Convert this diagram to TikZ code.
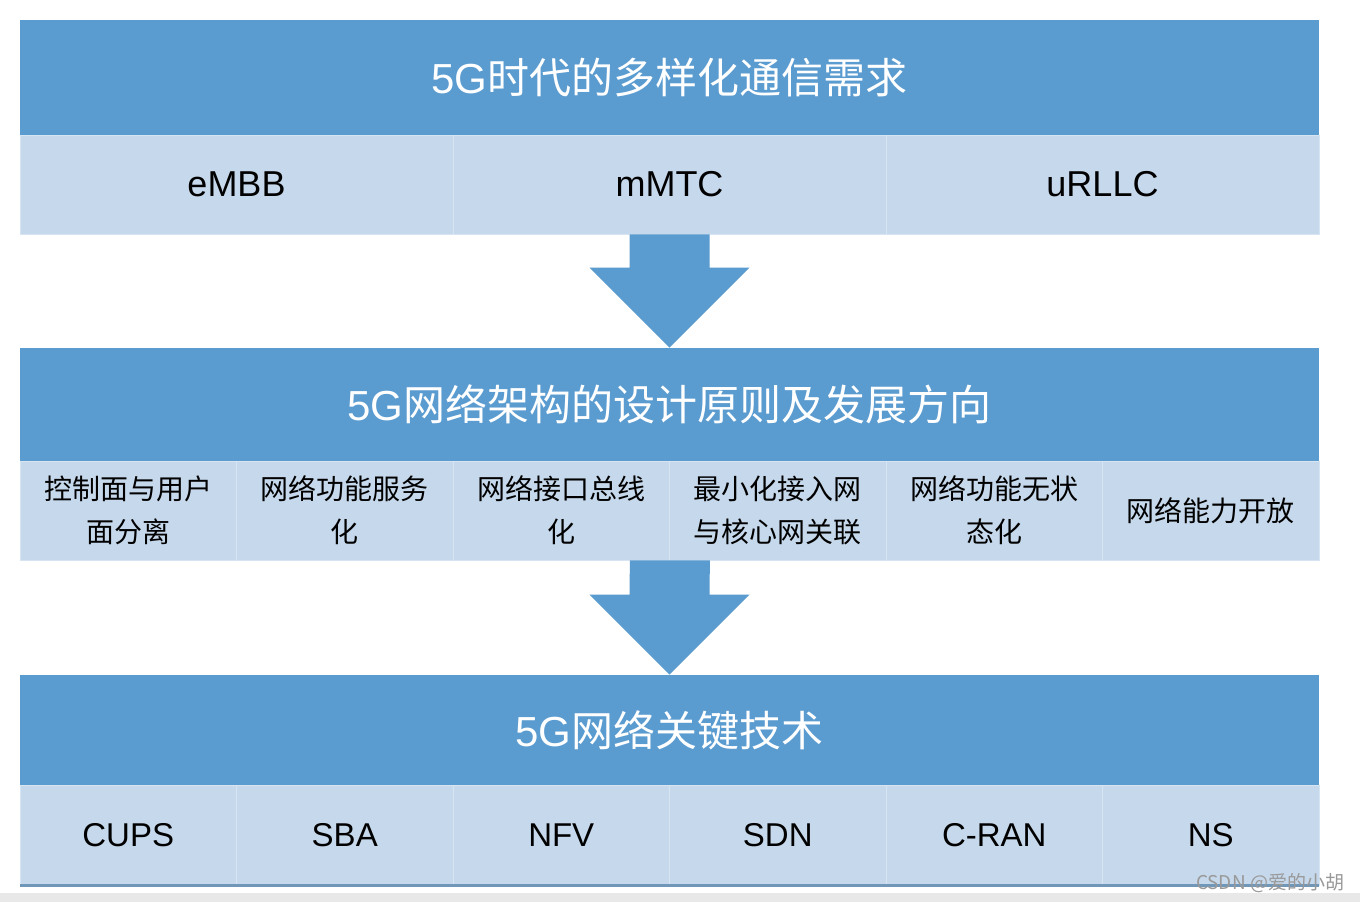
\documentclass[tikz,border=0pt]{standalone}
\usepackage{fontspec}
\setmainfont{Liberation Sans}
\newfontfamily\cjk{Noto Sans CJK SC}
\usetikzlibrary{positioning}

\definecolor{hdrblue}{HTML}{5A9BD0}
\definecolor{cellblue}{HTML}{C6D8EB}
\definecolor{edgeblue}{HTML}{7097B8}

\tikzset{
  header/.style={fill=hdrblue, text=white, minimum width=649.5pt, inner sep=0pt,
    font=\fontsize{21}{25}\selectfont},
  cell/.style={fill=cellblue, draw=white!30!cellblue, line width=0.4pt, inner sep=0pt,
    minimum height=49.5pt, align=center},
  widecell/.style={cell, minimum width=216.5pt, font=\fontsize{18}{22}\selectfont},
  smallcell/.style={cell, minimum width=108.25pt, font=\cjk\fontsize{14}{21.5}\selectfont}
}

% block arrow between two panels
\newcommand{\blockarrow}[2]{%
  \fill[hdrblue] ([xshift=-20pt]#1) -- ([xshift=20pt]#1)
    -- ([xshift=20pt,yshift=40pt]#2) -- ([xshift=40pt,yshift=40pt]#2)
    -- (#2) -- ([xshift=-40pt,yshift=40pt]#2)
    -- ([xshift=-20pt,yshift=40pt]#2) -- cycle;}

\begin{document}
\begin{tikzpicture}[x=0.5pt,y=-0.5pt]
  \useasboundingbox (0,0) rectangle (1360,902);
  \fill[white] (0,0) rectangle (1360,902);
  \fill[black!9] (0,893) rectangle (1360,902);

  % panel 1
  \node[header, minimum height=57.5pt] (demand) at (669.5,77.5) {5G{\cjk 时代的多样化通信需求}};
  \node[widecell] (embb) at (236.5,184.5) {eMBB};
  \node[widecell] (mmtc) at (669.5,184.5) {mMTC};
  \node[widecell] (urllc) at (1102.5,184.5) {uRLLC};

  % panel 2
  \node[header, minimum height=56.5pt] (design) at (669.5,404.5) {5G{\cjk 网络架构的设计原则及发展方向}};
  \node[smallcell] (cups1) at (128.25,510.5) {控制面与用户\\面分离};
  \node[smallcell] (sba1) at (344.75,510.5) {网络功能服务\\化};
  \node[smallcell] (bus1) at (561.25,510.5) {网络接口总线\\化};
  \node[smallcell] (ran1) at (777.75,510.5) {最小化接入网\\与核心网关联};
  \node[smallcell] (state1) at (994.25,510.5) {网络功能无状\\态化};
  \node[smallcell] (open1) at (1210.75,510.5) {网络能力开放};

  % panel 3
  \node[header, minimum height=55pt] (keytech) at (669.5,730) {5G{\cjk 网络关键技术}};
  \foreach \name/\txt [count=\i from 0] in {cups/CUPS, sba/SBA, nfv/NFV, sdn/SDN, cran/C-RAN, ns/NS}
    \node[cell, minimum width=108.25pt, minimum height=50pt, font=\fontsize{16.5}{20}\selectfont]
      (\name) at (128.25+216.5*\i,835) {\txt};
  \fill[edgeblue] (20,884) rectangle (1319,887);

  % arrows
  \blockarrow{mmtc.south}{design.north}
  \blockarrow{bus1.south east}{keytech.north}

  \node[text=black!40, font=\cjk\fontsize{9.5}{11}\selectfont] (mark) at (1270,883) {CSDN @爱的小胡};
\end{tikzpicture}
\end{document}
